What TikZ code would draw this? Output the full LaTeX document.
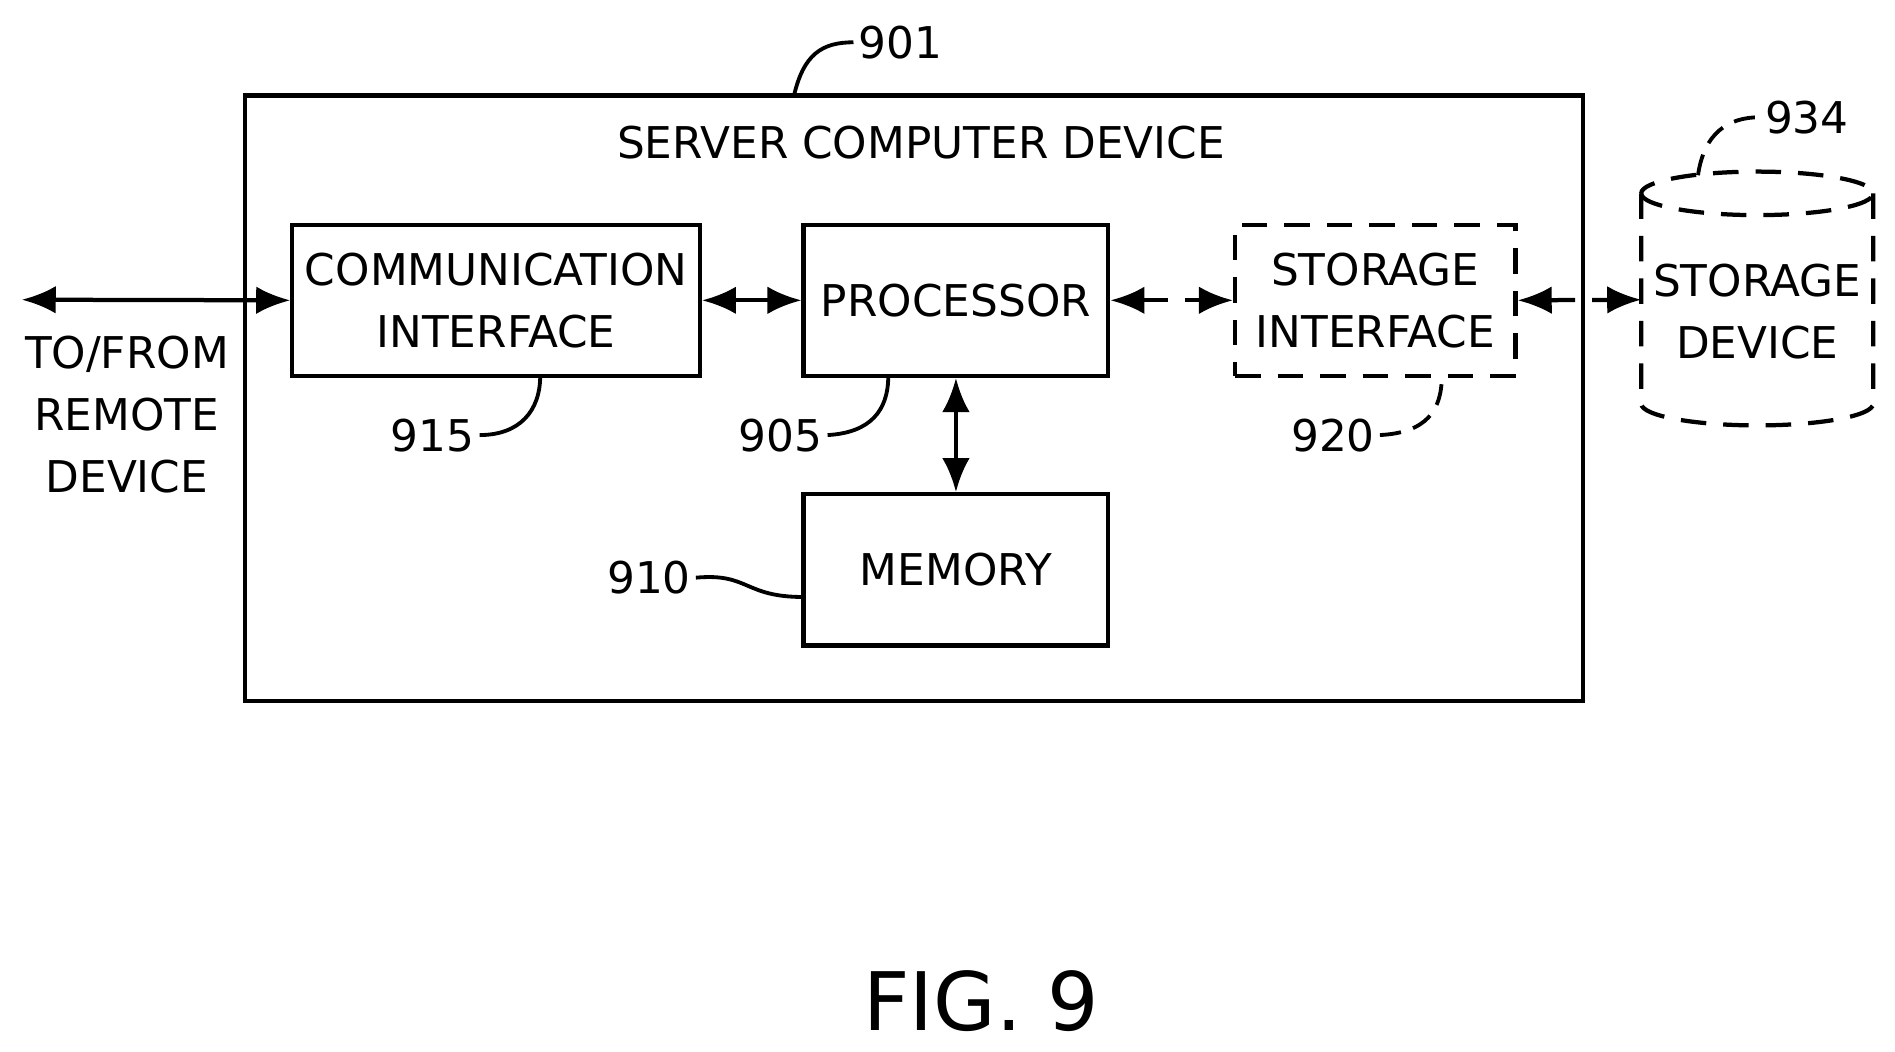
\documentclass[tikz,border=0pt]{standalone}
\usepackage{fontspec}
\setmainfont{DejaVu Sans}
\usetikzlibrary{arrows.meta,shapes.geometric}
\begin{document}
\begin{tikzpicture}[x=0.01cm,y=-0.01cm,
  box/.style={draw,line width=1pt,inner sep=0pt},
  lbl/.style={font=\fontsize{10.3}{14.5}\selectfont,align=center,inner sep=1pt},
  dbl/.style={{Latex[length=8pt,width=6.5pt]}-{Latex[length=8pt,width=6.5pt]},line width=1pt},
  dsh/.style={dash pattern=on 6pt off 4pt},
  lead/.style={line width=0.9pt}]
\useasboundingbox (0,0) rectangle (1568,870);
\draw[box] (203,79) rectangle (1310,580);
\node[lbl] (title) at (762,118) {SERVER COMPUTER DEVICE};
\node[box,minimum width=3.37cm,minimum height=1.25cm,lbl] (comm) at (410.5,248.5) {COMMUNICATION\\INTERFACE};
\node[box,minimum width=2.52cm,minimum height=1.25cm,lbl] (proc) at (791,248.5) {PROCESSOR};
\node[box,dsh,minimum width=2.32cm,minimum height=1.25cm,lbl] (stor) at (1138,248.5) {STORAGE\\INTERFACE};
\node[box,minimum width=2.52cm,minimum height=1.25cm,lbl] (mem) at (791,471.5) {MEMORY};
% cylinder
\draw[line width=1pt,dsh] (1358,160) arc[start angle=180,end angle=-180,x radius=96,y radius=18];
\draw[line width=1pt,dsh] (1358,160) -- (1358,334) arc[start angle=180,end angle=0,x radius=96,y radius=18] -- (1550,160);
\node[lbl] (sdev) at (1454,258) {STORAGE\\DEVICE};
\coordinate (cylw) at (1358,248);
\coordinate (remote) at (18,248);
\node[lbl] (remtxt) at (105,343) {TO/FROM\\REMOTE\\DEVICE};
\draw[dbl] (remote) -- (comm.west);
\draw[dbl] (comm.east) -- (proc.west);
\draw[dbl,dsh] (proc.east) -- (stor.west);
\draw[dbl,dsh] (stor.east) -- (cylw);
\draw[dbl] (proc.south) -- (mem.north);
% reference labels
\node[lbl] (n901) at (745,35) {901};
\draw[lead] (657,79) .. controls (665,45) and (680,35) .. (n901.west);
\node[lbl] (n934) at (1495,97) {934};
\draw[lead,dash pattern=on 5pt off 3pt] (1405,145) .. controls (1410,110) and (1430,97) .. (n934.west);
\node[lbl] (n915) at (358,360) {915};
\draw[lead] (n915.east) .. controls (430,360) and (447,340) .. (447,311);
\node[lbl] (n905) at (646,360) {905};
\draw[lead] (n905.east) .. controls (720,358) and (735,340) .. (735,311);
\node[lbl] (n920) at (1103,360) {920};
\draw[lead,dash pattern=on 5pt off 3pt] (n920.east) .. controls (1180,358) and (1193,340) .. (1193,311);
\node[lbl] (n910) at (537,478) {910};
\draw[lead] (n910.east) .. controls (620,474) and (615,494) .. (665,494);
\node[font=\fontsize{19}{23}\selectfont] (fig) at (812,828) {FIG. 9};
\end{tikzpicture}
\end{document}
